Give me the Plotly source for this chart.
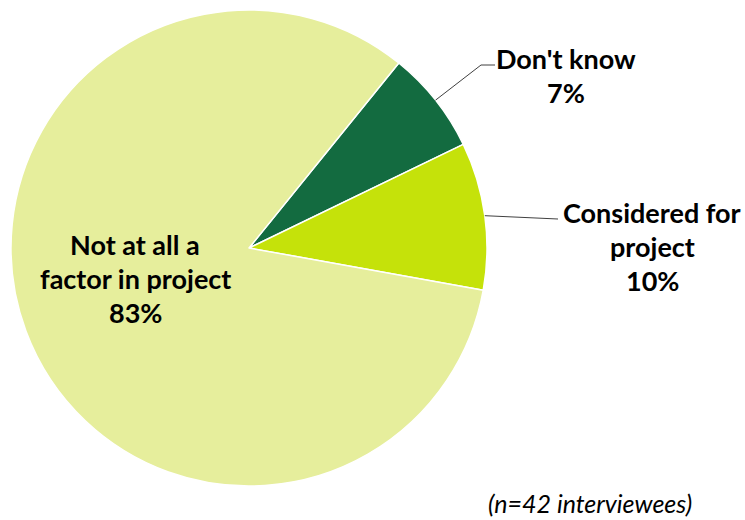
import math
import plotly.graph_objects as go

# Survey responses (share of interviewees, %)
categories = ["Don't know", "Considered for project", "Not at all a factor in project"]
shares = [7, 10, 83]
colors = ["#136B40", "#C5E20A", "#E6EE9C"]
label_lines = [["Don't know"], ["Considered for", "project"], ["Not at all a", "factor in project"]]
note = "(n=42 interviewees)"

W, H = 745, 520
CX, CY, R = 249, 248, 238   # pie centre / radius in pixels
ROTATION = 39
LINE_STEP = 34              # label line spacing in pixels

FONT = "Lato, 'Open Sans', Arial, sans-serif"

fig = go.Figure(
    go.Pie(
        labels=categories,
        values=shares,
        sort=False,
        direction="clockwise",
        rotation=ROTATION,
        marker=dict(colors=colors, line=dict(color="white", width=1.5)),
        textinfo="none",
        hoverinfo="label+percent",
        domain=dict(x=[(CX - R) / W, (CX + R) / W], y=[(H - CY - R) / H, (H - CY + R) / H]),
        showlegend=False,
    )
)


def px_to_paper(x, y):
    return x / W, 1 - y / H


# edge point at the middle of each slice, derived from the shares
total = sum(shares)
mid_pts = []
acc = 0
for v in shares:
    ang = math.radians(ROTATION + (acc + v / 2) / total * 360)
    mid_pts.append((CX + R * math.sin(ang), CY - R * math.cos(ang)))
    acc += v

# leader lines for the outside labels
leaders = [
    [mid_pts[0], (481, 65), (495, 65)],
    [mid_pts[1], (558, 219)],
]
for pts in leaders:
    path = "M " + " L ".join(f"{px_to_paper(x, y)[0]},{px_to_paper(x, y)[1]}" for x, y in pts)
    fig.add_shape(type="path", xref="paper", yref="paper", path=path,
                  line=dict(color="#404040", width=1))

# label blocks: centre x and first-line y, one annotation per line
label_anchor = [(566, 58), (652, 212), (135, 244)]
for lines, v, (x, y0) in zip(label_lines, shares, label_anchor):
    rows = lines + [f"{v}%"]
    for i, row in enumerate(rows):
        px, py = px_to_paper(x, y0 + i * LINE_STEP)
        fig.add_annotation(x=px, y=py, xref="paper", yref="paper", text=f"<b>{row}</b>",
                           showarrow=False, xanchor="center", yanchor="middle", align="center",
                           font=dict(family=FONT, size=27, color="black"))

nx, ny = px_to_paper(590, 503)
fig.add_annotation(x=nx, y=ny, xref="paper", yref="paper", text=f"<i>{note}</i>",
                   showarrow=False, xanchor="center", yanchor="middle",
                   font=dict(family=FONT, size=25, color="black"))

fig.update_layout(
    width=W, height=H,
    margin=dict(l=0, r=0, t=0, b=0),
    paper_bgcolor="white", plot_bgcolor="white",
)

fig.write_html("out.html")
